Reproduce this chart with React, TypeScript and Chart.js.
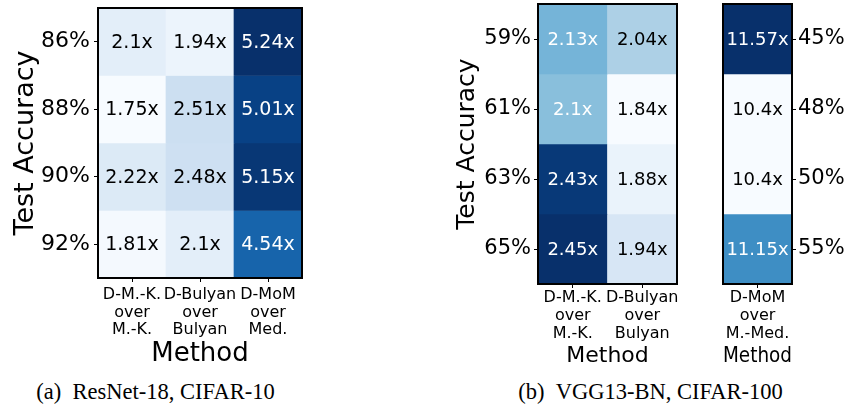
import React, { useEffect, useRef } from 'react';
import { Chart, registerables } from 'chart.js';

Chart.register(...registerables);

// ---------- data ----------
const methodsA = [['D-M.-K.', 'over', 'M.-K.'], ['D-Bulyan', 'over', 'Bulyan'], ['D-MoM', 'over', 'Med.']];
const accA = ['86%', '88%', '90%', '92%'];
const dmkA = [2.1, 1.75, 2.22, 1.81];
const dbulA = [1.94, 2.51, 2.48, 2.1];
const dmomA = [5.24, 5.01, 5.15, 4.54];

const methodsB = [['D-M.-K.', 'over', 'M.-K.'], ['D-Bulyan', 'over', 'Bulyan']];
const accB = ['59%', '61%', '63%', '65%'];
const dmkB = [2.13, 2.1, 2.43, 2.45];
const dbulB = [2.04, 1.84, 1.88, 1.94];

const methodsC = [['D-MoM', 'over', 'M.-Med.']];
const accC = ['45%', '48%', '50%', '55%'];
const dmomC = [11.57, 10.4, 10.4, 11.15];

const captionA = '(a)\u2002ResNet-18, CIFAR-10';
const captionB = '(b)\u2002VGG13-BN, CIFAR-100';

// ---------- colour map (matplotlib Blues) ----------
const BLUES = ['#f7fbff', '#deebf7', '#c6dbef', '#9ecae1', '#6baed6', '#4292c6', '#2171b5', '#08519c', '#08306b'];
function hex(h: string) {
  return [parseInt(h.slice(1, 3), 16), parseInt(h.slice(3, 5), 16), parseInt(h.slice(5, 7), 16)];
}
function blues(t: number) {
  const tt = Math.max(0, Math.min(1, t));
  const p = tt * 8;
  const i = Math.min(7, Math.floor(p));
  const f = p - i;
  const a = hex(BLUES[i]);
  const b = hex(BLUES[i + 1]);
  const c = a.map((v, k) => Math.round(v + (b[k] - v) * f));
  return `rgb(${c[0]},${c[1]},${c[2]})`;
}

const FONT = 'DejaVu Sans';

type Spec = {
  methods: string[][];
  rows: string[];
  cols: number[][];
  yPos: 'left' | 'right';
  yTitle: string | null;
  yWidth: number;
  yTitleSize: number;
  yTitlePad: number;
  yTickSize: number;
  yTickPad: number;
  xHeight: number;
  xTickPad: number;
  xTitleSize: number;
  xTitlePad: number;
  cellSize: number;
  padding: { left: number; right: number; top: number; bottom: number };
};

function HeatCanvas({ spec, left, width, height }: { spec: Spec; left: number; width: number; height: number }) {
  const ref = useRef<HTMLCanvasElement | null>(null);
  useEffect(() => {
    const canvas = ref.current;
    if (!canvas) return;
    const { cols, rows } = spec;
    const all = cols.flat();
    const vmin = Math.min(...all);
    const vmax = Math.max(...all);
    const norm = (v: number) => (vmax === vmin ? 0 : (v - vmin) / (vmax - vmin));

    const datasets = rows.map((label, r) => ({
      label,
      data: cols.map(() => 1),
      backgroundColor: cols.map((c) => blues(norm(c[r]))),
      borderWidth: 0,
      barPercentage: 1,
      categoryPercentage: 1,
    }));

    const cellText = {
      id: 'cellText',
      afterDatasetsDraw(chart: any) {
        const ctx = chart.ctx;
        ctx.save();
        ctx.font = `${spec.cellSize}px "${FONT}"`;
        ctx.textAlign = 'center';
        ctx.textBaseline = 'middle';
        rows.forEach((_, r) => {
          const meta = chart.getDatasetMeta(r);
          meta.data.forEach((el: any, c: number) => {
            const v = cols[c][r];
            const { x, y, base } = el.getProps(['x', 'y', 'base'], true);
            ctx.fillStyle = norm(v) > 0.4 ? '#ffffff' : '#000000';
            ctx.fillText(`${v}x`, x, (y + base) / 2 + 1);
          });
        });
        ctx.restore();
      },
    };

    const frame = {
      id: 'frame',
      afterDraw(chart: any) {
        const { left: l, top: t, width: w, height: h } = chart.chartArea;
        const ctx = chart.ctx;
        ctx.save();
        ctx.strokeStyle = '#000';
        ctx.lineWidth = 2;
        ctx.strokeRect(l, t, w, h);
        ctx.restore();
      },
    };

    const chart = new Chart(canvas, {
      type: 'bar',
      data: { labels: spec.methods as any, datasets },
      plugins: [cellText, frame],
      options: {
        responsive: false,
        animation: false,
        devicePixelRatio: 1,
        layout: { padding: spec.padding },
        plugins: { legend: { display: false }, tooltip: { enabled: false }, title: { display: false } },
        scales: {
          x: {
            type: 'category',
            stacked: true,
            offset: true,
            grid: { offset: false, drawOnChartArea: false, drawTicks: true, tickLength: 4, color: '#000', lineWidth: 1 },
            border: { display: false },
            ticks: {
              color: '#000',
              font: { family: FONT, size: 16, lineHeight: 1.1 },
              padding: spec.xTickPad,
              maxRotation: 0,
              minRotation: 0,
              autoSkip: false,
            },
            title: {
              display: true,
              text: 'Method',
              color: '#000',
              font: { family: FONT, size: spec.xTitleSize, lineHeight: 1.2 },
              padding: { top: 0, bottom: spec.xTitlePad },
            },
            afterFit(s: any) {
              s.height = spec.xHeight;
              s.paddingLeft = 0;
              s.paddingRight = 0;
            },
          },
          y: {
            type: 'linear',
            position: spec.yPos,
            stacked: true,
            reverse: true,
            min: 0,
            max: rows.length,
            grid: { drawOnChartArea: false, drawTicks: true, tickLength: 4, color: '#000', lineWidth: 1 },
            border: { display: false },
            afterBuildTicks(s: any) {
              s.ticks = rows.map((_, i) => ({ value: i + 0.5 }));
            },
            ticks: {
              color: '#000',
              font: { family: FONT, size: spec.yTickSize },
              padding: spec.yTickPad,
              autoSkip: false,
              callback: (v: any) => rows[Math.floor(Number(v))],
            },
            title: {
              display: !!spec.yTitle,
              text: spec.yTitle || '',
              color: '#000',
              font: { family: FONT, size: spec.yTitleSize, lineHeight: 1.2 },
              padding: { top: spec.yTitlePad, bottom: 0 },
            },
            afterFit(s: any) {
              s.width = spec.yWidth;
              s.paddingTop = 0;
              s.paddingBottom = 0;
            },
          },
        },
      } as any,
    });
    return () => chart.destroy();
  }, [spec]);
  return (
    <canvas
      ref={ref}
      width={width}
      height={height}
      style={{ position: 'absolute', left, top: 0, width, height }}
    />
  );
}

const specA: Spec = {
  methods: methodsA,
  rows: accA,
  cols: [dmkA, dbulA, dmomA],
  yPos: 'left',
  yTitle: 'Test Accuracy',
  yWidth: 98,
  yTitleSize: 27,
  yTitlePad: 10,
  yTickSize: 22,
  yTickPad: 4,
  xHeight: 92,
  xTickPad: 4,
  xTitleSize: 26,
  xTitlePad: 0,
  cellSize: 19,
  padding: { left: 0, right: 8, top: 8, bottom: 0 },
};

const specB: Spec = {
  methods: methodsB,
  rows: accB,
  cols: [dmkB, dbulB],
  yPos: 'left',
  yTitle: 'Test Accuracy',
  yWidth: 98,
  yTitleSize: 25,
  yTitlePad: 12,
  yTickSize: 21,
  yTickPad: 3,
  xHeight: 86,
  xTickPad: 1.5,
  xTitleSize: 22,
  xTitlePad: 1,
  cellSize: 18,
  padding: { left: 0, right: 13, top: 4, bottom: 0 },
};

const specC: Spec = {
  methods: methodsC,
  rows: accC,
  cols: [dmomC],
  yPos: 'right',
  yTitle: null,
  yWidth: 57,
  yTitleSize: 25,
  yTitlePad: 0,
  yTickSize: 21,
  yTickPad: 2,
  xHeight: 86,
  xTickPad: 1.5,
  xTitleSize: 22,
  xTitlePad: 1,
  cellSize: 18,
  padding: { left: 23, right: 0, top: 4, bottom: 0 },
};

const captionStyle: React.CSSProperties = {
  position: 'absolute',
  top: 379,
  width: 340,
  height: 26,
  lineHeight: '26px',
  textAlign: 'center',
  fontFamily: '"Liberation Serif", serif',
  fontSize: 22.5,
  color: '#000',
  whiteSpace: 'pre',
};

export default function App() {
  return (
    <div style={{ position: 'fixed', left: 0, top: 0, width: 849, height: 406, background: '#fff', overflow: 'hidden' }}>
      <HeatCanvas spec={specA} left={0} width={310} height={370} />
      <HeatCanvas spec={specB} left={440} width={250} height={370} />
      <HeatCanvas spec={specC} left={700} width={149} height={370} />
      <div style={{ ...captionStyle, left: 155.5 - 170 }}>{captionA}</div>
      <div style={{ ...captionStyle, left: 650.5 - 170 }}>{captionB}</div>
    </div>
  );
}
